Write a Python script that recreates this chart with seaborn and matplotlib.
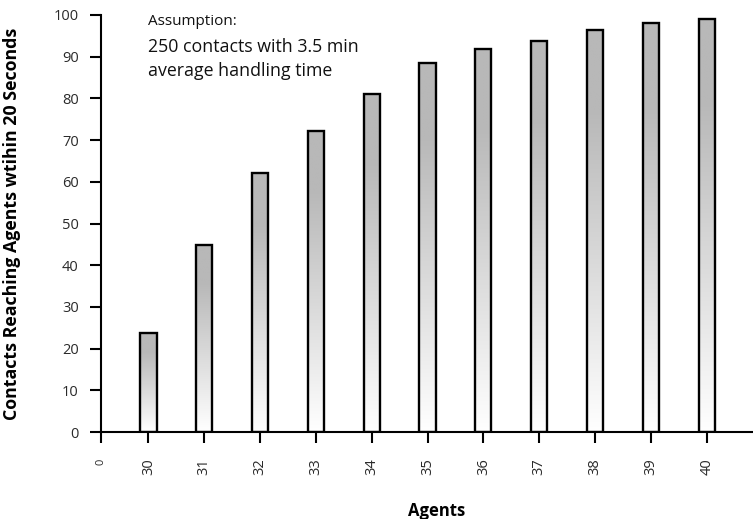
import numpy as np
import pandas as pd
import matplotlib
matplotlib.use("Agg")
import matplotlib.pyplot as plt
import seaborn as sns

agents = ["30", "31", "32", "33", "34", "35", "36", "37", "38", "39", "40"]
reached = [23.8, 44.8, 62.2, 72.3, 81.0, 88.4, 91.9, 93.7, 96.5, 98.0, 99.0]
y_ticks = [0, 10, 20, 30, 40, 50, 60, 70, 80, 90, 100]
x_first_label = "0"

sns.set_theme(style="white")
plt.rcParams["font.family"] = ["Open Sans", "DejaVu Sans"]

df = pd.DataFrame({"Agents": agents, "Reached": reached})

fig = plt.figure(figsize=(7.53, 5.19), dpi=100)
ax = fig.add_axes([101 / 753, 87 / 519, 652 / 753, 417 / 519])

sns.barplot(data=df, x="Agents", y="Reached", order=agents, width=0.29,
            facecolor="none", edgecolor="black", linewidth=1.7, ax=ax, zorder=3)

# gradient fill per bar
grad = np.linspace(0, 1, 256).reshape(-1, 1)
vals = 255 - (255 - 184) * np.clip(grad / 0.8, 0, 1)
rgb = np.repeat(vals[:, :, None], 3, axis=2) / 255.0
for p in ax.patches:
    x0, y0 = p.get_x(), p.get_y()
    w, h = p.get_width(), p.get_height()
    im = ax.imshow(rgb, extent=[x0, x0 + w, y0, y0 + h], origin="lower",
                   aspect="auto", zorder=2, interpolation="bilinear")
    im.set_clip_path(p)

ax.set_ylim(0, 100)
left = -0.85
ax.set_xlim(left, 10.83)
ax.set_yticks(y_ticks)
ax.set_yticklabels([str(v) for v in y_ticks], fontsize=10.5, color="#2a2a2a")
ax.set_xticks([left] + list(range(len(agents))))
ax.set_xticklabels([x_first_label] + agents, rotation=90, fontsize=10.5, color="#2a2a2a")
ax.get_xticklabels()[0].set_fontsize(8)

for s in ["top", "right"]:
    ax.spines[s].set_visible(False)
for s in ["left", "bottom"]:
    ax.spines[s].set_color("black")
    ax.spines[s].set_linewidth(1.5)

ax.tick_params(axis="x", direction="out", length=8, width=1.5, pad=11, colors="black",
               labelcolor="#2a2a2a", bottom=True)
ax.tick_params(axis="y", direction="out", length=8, width=1.5, pad=8, colors="black",
               labelcolor="#2a2a2a", left=True)

ax.set_xlabel("Agents", fontsize=12, fontweight="bold", color="black", va="top")
ax.set_ylabel("Contacts Reaching Agents wtihin 20 Seconds", fontsize=12.8,
              fontweight="bold", color="black")
ax.xaxis.set_label_coords((437 - 101) / 652, -(502 - 432) / 417)
ax.yaxis.set_label_coords(-(101 - 21) / 652, 0.5)

fig.text(148 / 753, 1 - 21.5 / 519, "Assumption:", fontsize=11, va="center", ha="left",
         color="#111111")
fig.text(148 / 753, 1 - 46.5 / 519, "250 contacts with 3.5 min", fontsize=12.8,
         va="center", ha="left", color="#111111")
fig.text(148 / 753, 1 - 71.0 / 519, "average handling time", fontsize=12.8,
         va="center", ha="left", color="#111111")

fig.savefig("out.png", dpi=100)
